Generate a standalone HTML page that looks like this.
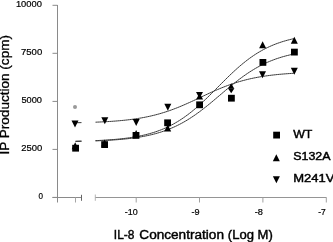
<!DOCTYPE html>
<html><head><meta charset="utf-8"><style>
html,body{margin:0;padding:0;background:#fff;}
body{width:333px;height:242px;overflow:hidden;}
svg{display:block;will-change:transform;font-family:"Liberation Sans",sans-serif;}
</style></head><body>
<svg width="333" height="242" viewBox="0 0 333 242">
<g stroke="#8a8a8a" stroke-width="1" fill="none">
<line x1="57.5" y1="5" x2="57.5" y2="202.5"/>
<line x1="52.5" y1="197.5" x2="81.5" y2="197.5"/>
<line x1="75.5" y1="197.5" x2="75.5" y2="202.5" stroke="#a5a5a5"/>
<line x1="81.5" y1="194.8" x2="81.5" y2="200.8" stroke="#666"/>
<line x1="95.3" y1="194.5" x2="95.3" y2="200.8" stroke="#b5b5b5"/>
<line x1="95.5" y1="197.5" x2="326.5" y2="197.5" stroke="#959595"/>
<line x1="52.5" y1="5.3" x2="57.5" y2="5.3"/>
<line x1="52.5" y1="53.3" x2="57.5" y2="53.3"/>
<line x1="52.5" y1="101.4" x2="57.5" y2="101.4"/>
<line x1="52.5" y1="149.4" x2="57.5" y2="149.4"/>
<line x1="52.5" y1="197.4" x2="57.5" y2="197.4"/>
<line x1="136.2" y1="197.5" x2="136.2" y2="202.5" stroke="#a0a0a0"/>
<line x1="199.5" y1="197.5" x2="199.5" y2="202.5" stroke="#a0a0a0"/>
<line x1="262.9" y1="197.5" x2="262.9" y2="202.5" stroke="#a0a0a0"/>
<line x1="326.3" y1="197.5" x2="326.3" y2="202.5" stroke="#a0a0a0"/>
</g>
<g stroke="#3a3a3a" stroke-width="1" fill="none">
<path d="M75.5,122.75 L81.5,122.62 M95.5,122.19 L97.5,122.10 L99.5,122.02 L101.5,121.92 L103.5,121.82 L105.5,121.72 L107.5,121.60 L109.5,121.48 L111.5,121.35 L113.5,121.20 L115.5,121.05 L117.5,120.89 L119.5,120.72 L121.5,120.53 L123.5,120.34 L125.5,120.13 L127.5,119.90 L129.5,119.67 L131.5,119.41 L133.5,119.14 L135.5,118.85 L137.5,118.55 L139.5,118.23 L141.5,117.88 L143.5,117.52 L145.5,117.13 L147.5,116.73 L149.5,116.30 L151.5,115.84 L153.5,115.36 L155.5,114.86 L157.5,114.33 L159.5,113.78 L161.5,113.20 L163.5,112.59 L165.5,111.96 L167.5,111.30 L169.5,110.61 L171.5,109.90 L173.5,109.16 L175.5,108.40 L177.5,107.62 L179.5,106.81 L181.5,105.97 L183.5,105.12 L185.5,104.25 L187.5,103.37 L189.5,102.47 L191.5,101.55 L193.5,100.63 L195.5,99.69 L197.5,98.75 L199.5,97.81 L201.5,96.87 L203.5,95.92 L205.5,94.99 L207.5,94.05 L209.5,93.13 L211.5,92.22 L213.5,91.32 L215.5,90.44 L217.5,89.58 L219.5,88.73 L221.5,87.90 L223.5,87.10 L225.5,86.32 L227.5,85.56 L229.5,84.83 L231.5,84.13 L233.5,83.45 L235.5,82.80 L237.5,82.17 L239.5,81.57 L241.5,81.00 L243.5,80.45 L245.5,79.93 L247.5,79.43 L249.5,78.96 L251.5,78.51 L253.5,78.09 L255.5,77.69 L257.5,77.31 L259.5,76.95 L261.5,76.61 L263.5,76.29 L265.5,75.99 L267.5,75.71 L269.5,75.45 L271.5,75.20 L273.5,74.96 L275.5,74.74 L277.5,74.53 L279.5,74.34 L281.5,74.16 L283.5,73.99 L285.5,73.83 L287.5,73.68 L289.5,73.55 L291.5,73.42 L293.5,73.29 L294.4,73.24"/>
<path d="M75.5,141.26 L81.5,141.11 M95.5,140.64 L97.5,140.55 L99.5,140.45 L101.5,140.35 L103.5,140.23 L105.5,140.11 L107.5,139.98 L109.5,139.85 L111.5,139.70 L113.5,139.54 L115.5,139.37 L117.5,139.18 L119.5,138.98 L121.5,138.77 L123.5,138.55 L125.5,138.30 L127.5,138.04 L129.5,137.77 L131.5,137.47 L133.5,137.15 L135.5,136.81 L137.5,136.44 L139.5,136.05 L141.5,135.63 L143.5,135.19 L145.5,134.71 L147.5,134.21 L149.5,133.67 L151.5,133.09 L153.5,132.48 L155.5,131.83 L157.5,131.15 L159.5,130.41 L161.5,129.64 L163.5,128.82 L165.5,127.95 L167.5,127.03 L169.5,126.06 L171.5,125.04 L173.5,123.97 L175.5,122.84 L177.5,121.65 L179.5,120.41 L181.5,119.12 L183.5,117.76 L185.5,116.35 L187.5,114.88 L189.5,113.36 L191.5,111.78 L193.5,110.15 L195.5,108.46 L197.5,106.73 L199.5,104.95 L201.5,103.13 L203.5,101.26 L205.5,99.37 L207.5,97.44 L209.5,95.48 L211.5,93.50 L213.5,91.50 L215.5,89.50 L217.5,87.48 L219.5,85.47 L221.5,83.46 L223.5,81.45 L225.5,79.47 L227.5,77.50 L229.5,75.56 L231.5,73.65 L233.5,71.78 L235.5,69.94 L237.5,68.14 L239.5,66.39 L241.5,64.69 L243.5,63.04 L245.5,61.44 L247.5,59.89 L249.5,58.40 L251.5,56.97 L253.5,55.59 L255.5,54.27 L257.5,53.01 L259.5,51.81 L261.5,50.66 L263.5,49.56 L265.5,48.52 L267.5,47.54 L269.5,46.60 L271.5,45.71 L273.5,44.87 L275.5,44.08 L277.5,43.33 L279.5,42.63 L281.5,41.96 L283.5,41.34 L285.5,40.75 L287.5,40.20 L289.5,39.68 L291.5,39.19 L293.5,38.74 L294.4,38.54"/>
<path d="M75.5,141.38 L81.5,141.26 M95.5,140.86 L97.5,140.79 L99.5,140.71 L101.5,140.62 L103.5,140.53 L105.5,140.43 L107.5,140.32 L109.5,140.20 L111.5,140.08 L113.5,139.95 L115.5,139.81 L117.5,139.66 L119.5,139.49 L121.5,139.32 L123.5,139.13 L125.5,138.93 L127.5,138.72 L129.5,138.49 L131.5,138.25 L133.5,137.99 L135.5,137.71 L137.5,137.41 L139.5,137.09 L141.5,136.75 L143.5,136.39 L145.5,136.00 L147.5,135.59 L149.5,135.15 L151.5,134.68 L153.5,134.18 L155.5,133.66 L157.5,133.10 L159.5,132.50 L161.5,131.87 L163.5,131.21 L165.5,130.50 L167.5,129.76 L169.5,128.97 L171.5,128.14 L173.5,127.27 L175.5,126.35 L177.5,125.39 L179.5,124.38 L181.5,123.33 L183.5,122.23 L185.5,121.08 L187.5,119.88 L189.5,118.63 L191.5,117.34 L193.5,116.01 L195.5,114.63 L197.5,113.20 L199.5,111.74 L201.5,110.24 L203.5,108.70 L205.5,107.13 L207.5,105.53 L209.5,103.90 L211.5,102.25 L213.5,100.58 L215.5,98.89 L217.5,97.20 L219.5,95.50 L221.5,93.80 L223.5,92.10 L225.5,90.41 L227.5,88.73 L229.5,87.06 L231.5,85.42 L233.5,83.80 L235.5,82.21 L237.5,80.65 L239.5,79.12 L241.5,77.63 L243.5,76.18 L245.5,74.77 L247.5,73.40 L249.5,72.08 L251.5,70.80 L253.5,69.57 L255.5,68.39 L257.5,67.25 L259.5,66.17 L261.5,65.13 L263.5,64.13 L265.5,63.18 L267.5,62.28 L269.5,61.42 L271.5,60.61 L273.5,59.84 L275.5,59.10 L277.5,58.41 L279.5,57.76 L281.5,57.14 L283.5,56.56 L285.5,56.01 L287.5,55.49 L289.5,55.00 L291.5,54.54 L293.5,54.11 L294.4,53.93"/>
</g>
<circle cx="75" cy="107" r="2" fill="#999"/>
<g fill="#000">
<polygon points="75.20,142.30 78.70,149.30 71.70,149.30"/>
<polygon points="104.60,139.50 108.10,146.50 101.10,146.50"/>
<polygon points="136.10,130.10 139.60,137.10 132.60,137.10"/>
<polygon points="167.70,124.50 171.20,131.50 164.20,131.50"/>
<polygon points="199.60,93.00 203.10,99.40 196.10,99.40"/>
<polygon points="231.20,83.30 234.30,88.70 228.10,88.70"/>
<polygon points="262.60,41.30 266.10,48.30 259.10,48.30"/>
<polygon points="294.30,36.80 297.80,43.80 290.80,43.80"/>
<polygon points="71.5,120.4 78.5,120.4 75.0,127.4"/>
<polygon points="101.3,117.3 108.3,117.3 104.8,124.3"/>
<polygon points="132.7,119.1 139.7,119.1 136.2,126.1"/>
<polygon points="164.3,103.7 171.3,103.7 167.8,110.7"/>
<polygon points="196.0,92.1 203.0,92.1 199.5,98.4"/>
<polygon points="228.1,88.6 234.3,88.6 231.2,93.2"/>
<polygon points="259.0,71.2 266.0,71.2 262.5,78.2"/>
<polygon points="290.8,67.8 297.8,67.8 294.3,74.8"/>
<rect x="72.20" y="144.80" width="6.80" height="6.80"/>
<rect x="101.20" y="141.20" width="6.80" height="6.80"/>
<rect x="132.60" y="132.00" width="6.80" height="6.80"/>
<rect x="164.20" y="119.40" width="6.80" height="6.80"/>
<rect x="196.20" y="101.40" width="6.80" height="6.80"/>
<rect x="228.00" y="94.80" width="6.80" height="6.80"/>
<rect x="259.50" y="59.00" width="6.80" height="6.80"/>
<rect x="291.00" y="48.70" width="6.80" height="6.80"/>
</g>
<g fill="#000" font-size="9.9" stroke="#000" stroke-width="0.22">
<text x="15.90" y="7.00" textLength="26.00" lengthAdjust="spacingAndGlyphs">10000</text>
<text x="21.00" y="54.90" textLength="21.20" lengthAdjust="spacingAndGlyphs">7500</text>
<text x="21.40" y="102.90" textLength="20.50" lengthAdjust="spacingAndGlyphs">5000</text>
<text x="21.30" y="151.10" textLength="21.00" lengthAdjust="spacingAndGlyphs">2500</text>
<text x="38.40" y="199.20" textLength="4.50" lengthAdjust="spacingAndGlyphs">0</text>
<text x="124.80" y="215.00" textLength="12.90" lengthAdjust="spacingAndGlyphs">-10</text>
<text x="191.40" y="214.80" textLength="8.10" lengthAdjust="spacingAndGlyphs">-9</text>
<text x="254.80" y="214.80" textLength="8.20" lengthAdjust="spacingAndGlyphs">-8</text>
<text x="318.30" y="214.80" textLength="7.50" lengthAdjust="spacingAndGlyphs">-7</text>
</g>
<g fill="#000" font-size="12.3" stroke="#000" stroke-width="0.42">
<text x="113.82" y="239.1" textLength="20.57" lengthAdjust="spacingAndGlyphs">IL-8</text>
<text x="139.33" y="239.1" textLength="84.62" lengthAdjust="spacingAndGlyphs">Concentration</text>
<text x="227.82" y="239.1" textLength="44.97" lengthAdjust="spacingAndGlyphs">(Log M)</text>
<text transform="translate(8.9,154.6) rotate(-90)" x="0" y="0" textLength="119.6" lengthAdjust="spacingAndGlyphs" stroke-width="0.3">IP Production (cpm)</text>
</g>
<g fill="#000">
<rect x="273.20" y="131.70" width="6.80" height="6.80"/><polygon points="276.30,154.20 279.80,161.20 272.80,161.20"/><polygon points="272.9,176.2 279.9,176.2 276.4,183.2"/>
</g>
<g fill="#000" font-size="11.7" stroke="#000" stroke-width="0.45">
<text x="293.2" y="137.5" textLength="19.2" lengthAdjust="spacingAndGlyphs">WT</text>
<text x="293.2" y="159.9" textLength="37.3" lengthAdjust="spacingAndGlyphs">S132A</text>
<text x="293.3" y="182.2" textLength="41.2" lengthAdjust="spacingAndGlyphs">M241V</text>
</g>
</svg>
</body></html>
